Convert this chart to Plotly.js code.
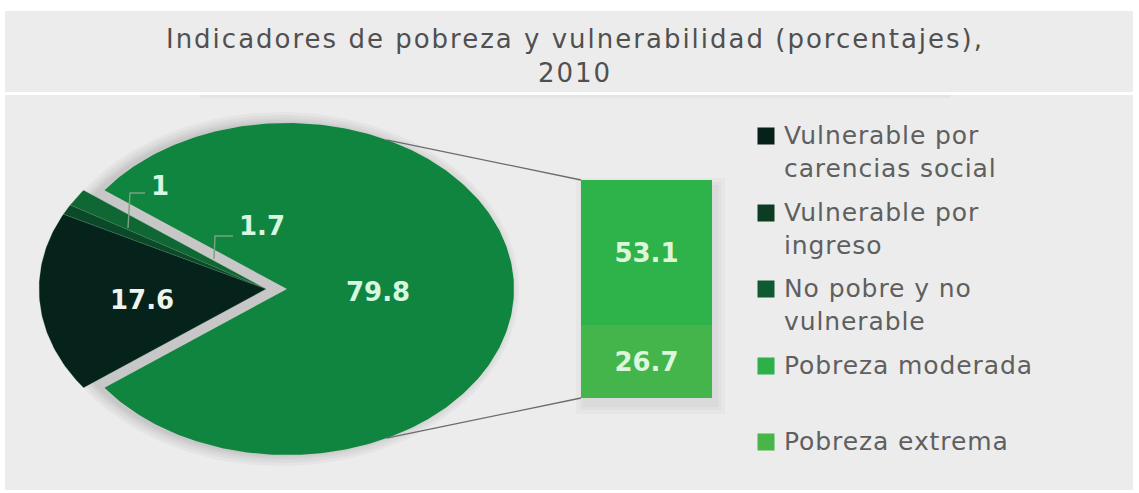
<!DOCTYPE html>
<html>
<head>
<meta charset="utf-8">
<script src="https://cdn.plot.ly/plotly-3.0.1.min.js"></script>
<style>html,body{margin:0;padding:0;background:#fff;}#chart{width:1139px;height:493px;}</style>
</head>
<body>
<div id="chart"></div>
<script>
// ---------------- data ----------------
const pieLabels = ['Vulnerable por carencias social', 'Vulnerable por ingreso', 'No pobre y no vulnerable', 'Pobreza'];
const pieValues = [17.6, 1, 1.7, 79.8];
const barLabels = ['Pobreza extrema', 'Pobreza moderada'];
const barValues = [26.7, 53.1];
const legendLabels = ['Vulnerable por<br>carencias social', 'Vulnerable por<br>ingreso', 'No pobre y no<br>vulnerable', 'Pobreza moderada', 'Pobreza extrema'];
const titleText = 'Indicadores de pobreza y vulnerabilidad (porcentajes),<br>2010';

// ---------------- styles ----------------
const W = 1139, H = 493;
const pieColors = ['#05231a', '#0b4a28', '#0f6834', '#10853f'];
const barColors = ['#43b54b', '#2db34a'];
const legendColors = ['#06201a', '#0c3d22', '#0e5a31', '#2bb04a', '#47b548'];
const cx = 287, cy = 289, rx = 227, ry = 166, pull = 0.0925;
const barX0 = 581, barX1 = 712, barTop = 180, barBottom = 398;

const total = pieValues.reduce((a, b) => a + b, 0);
const k = 360 / total;
const groupIdx = [2, 1, 0];           // drawn from top edge downward (counter-clockwise)
const groupTotal = groupIdx.reduce((s, i) => s + pieValues[i], 0);
const startAng = 180 - groupTotal * k / 2;
const rad = d => d * Math.PI / 180;
const offX = -pull * rx;             // group pulled towards the left (mid angle 180°)

function wedge(a0, a1, ox) {
  const xs = [cx + ox], ys = [cy];
  const n = Math.max(4, Math.ceil(Math.abs(a1 - a0)));
  for (let j = 0; j <= n; j++) {
    const a = a0 + (a1 - a0) * j / n;
    xs.push(cx + ox + rx * Math.cos(rad(a)));
    ys.push(cy - ry * Math.sin(rad(a)));
  }
  xs.push(cx + ox); ys.push(cy);
  return {xs, ys};
}
function ellipse(ox, grow) {
  const xs = [], ys = [];
  for (let a = 0; a <= 360; a += 2) {
    xs.push(cx + ox + (rx + grow) * Math.cos(rad(a)));
    ys.push(cy - (ry + grow) * Math.sin(rad(a)));
  }
  return {xs, ys};
}

const traces = [];
// soft shadow under the pie
[11, 8, 5, 3, 1].forEach(g => {
  const e = ellipse(-6, g);
  traces.push({type: 'scatter', x: e.xs, y: e.ys, mode: 'lines', fill: 'toself',
    fillcolor: 'rgba(0,0,0,0.03)', line: {width: 0}, hoverinfo: 'skip', showlegend: false});
});

// pulled group
let a = startAng;
const angles = {};
groupIdx.forEach(i => {
  const a0 = a, a1 = a + pieValues[i] * k;
  angles[i] = [a0, a1];
  const w = wedge(a0, a1, offX);
  traces.push({type: 'scatter', x: w.xs, y: w.ys, mode: 'lines', fill: 'toself',
    fillcolor: pieColors[i], line: {width: 0.6, color: 'rgba(120,170,130,0.35)'},
    name: pieLabels[i], hoverinfo: 'skip', showlegend: false});
  a = a1;
});
// main slice
angles[3] = [a, startAng + 360];
const wm = wedge(a, startAng + 360, 0);
traces.push({type: 'scatter', x: wm.xs, y: wm.ys, mode: 'lines', fill: 'toself',
  fillcolor: pieColors[3], line: {width: 0}, name: pieLabels[3], hoverinfo: 'skip', showlegend: false});

// connector lines from the main slice to the bar
const connAng = 64;
[connAng, -connAng].forEach((ang, j) => {
  traces.push({type: 'scatter', mode: 'lines',
    x: [cx + rx * Math.cos(rad(ang)), barX0],
    y: [cy - ry * Math.sin(rad(ang)), j === 0 ? barTop : barBottom],
    line: {color: '#6b6b6b', width: 1.3}, hoverinfo: 'skip', showlegend: false});
});

// leader lines for the small slices
traces.push({type: 'scatter', mode: 'lines', x: [145, 130, 128], y: [193, 193, 228],
  line: {color: '#7f9f86', width: 1.4}, hoverinfo: 'skip', showlegend: false});
traces.push({type: 'scatter', mode: 'lines', x: [233, 215, 214], y: [236, 236, 259],
  line: {color: '#7f9f86', width: 1.4}, hoverinfo: 'skip', showlegend: false});

// stacked bar
barValues.forEach((v, i) => {
  traces.push({type: 'bar', x: [0], y: [v], width: 1, xaxis: 'x2', yaxis: 'y2',
    marker: {color: barColors[i], line: {width: 0}}, name: barLabels[i],
    text: [String(v)], textposition: 'inside', insidetextanchor: 'middle', textangle: 0,
    constraintext: 'none',
    textfont: {family: 'DejaVu Sans', size: 26, weight: 'bold', color: '#dcf6dc'},
    hoverinfo: 'skip', showlegend: false});
});

// legend squares
const legY = [136, 213, 289, 366, 442];
traces.push({type: 'scatter', mode: 'markers', x: legY.map(() => 766), y: legY,
  marker: {symbol: 'square', size: 17, color: legendColors, line: {width: 0}},
  hoverinfo: 'skip', showlegend: false});

// ---------------- annotations ----------------
const annotations = [];
legendLabels.forEach((t, i) => {
  annotations.push({xref: 'x', yref: 'y', x: 782, y: legY[i] - 17, xanchor: 'left', yanchor: 'top',
    text: '<span style="letter-spacing:0.9px">' + t + '</span>', showarrow: false, align: 'left',
    font: {family: 'DejaVu Sans', size: 25, color: '#5f5f5f'}});
});
function midLabel(i, r, color) {
  const [a0, a1] = angles[i];
  const m = (a0 + a1) / 2;
  const ox = i === 3 ? 0 : offX;
  annotations.push({xref: 'x', yref: 'y', x: cx + ox + r * rx * Math.cos(rad(m)),
    y: cy - r * ry * Math.sin(rad(m)) + 3, text: String(pieValues[i]), showarrow: false,
    font: {family: 'DejaVu Sans', size: 26, weight: 'bold', color: color}});
}
midLabel(3, 0.4, '#d6f7e0');
midLabel(0, 0.55, '#eef4ee');
annotations.push({xref: 'x', yref: 'y', x: 160, y: 186, text: String(pieValues[1]), showarrow: false,
  font: {family: 'DejaVu Sans', size: 26, weight: 'bold', color: '#d6f7e0'}});
annotations.push({xref: 'x', yref: 'y', x: 262, y: 226, text: String(pieValues[2]), showarrow: false,
  font: {family: 'DejaVu Sans', size: 26, weight: 'bold', color: '#d6f7e0'}});

// ---------------- background panels ----------------
const shapes = [
  {type: 'rect', xref: 'x', yref: 'y', x0: 5, x1: 1133, y0: 11, y1: 92, fillcolor: '#ececec', line: {width: 0}, layer: 'below'},
  {type: 'rect', xref: 'x', yref: 'y', x0: 5, x1: 1133, y0: 95, y1: 490, fillcolor: '#ececec', line: {width: 0}, layer: 'below'},
  {type: 'rect', xref: 'x', yref: 'y', x0: 200, x1: 950, y0: 95, y1: 98, fillcolor: 'rgba(0,0,0,0.03)', line: {width: 0}, layer: 'below'},
];
[10, 6, 3].forEach(g => {
  shapes.push({type: 'rect', xref: 'x', yref: 'y', x0: barX0 - g + 5, x1: barX1 + g + 3, y0: barTop - g + 8, y1: barBottom + g + 6,
    fillcolor: 'rgba(0,0,0,0.025)', line: {width: 0}, layer: 'below'});
});

const layout = {
  width: W, height: H,
  margin: {l: 0, r: 0, t: 0, b: 0},
  paper_bgcolor: '#ffffff', plot_bgcolor: 'rgba(0,0,0,0)',
  showlegend: false, hovermode: false, barmode: 'stack', bargap: 0,
  title: {text: '<span style="letter-spacing:2px">' + titleText + '</span>',
    x: 575 / W, xanchor: 'center', xref: 'paper', y: 1 - 48 / H, yanchor: 'middle', yref: 'container',
    font: {family: 'DejaVu Sans', size: 26, color: '#505050'}},
  xaxis: {domain: [0, 1], range: [0, W], visible: false, fixedrange: true},
  yaxis: {domain: [0, 1], range: [H, 0], visible: false, fixedrange: true},
  xaxis2: {domain: [barX0 / W, barX1 / W], range: [-0.5, 0.5], anchor: 'y2', visible: false, fixedrange: true},
  yaxis2: {domain: [(H - barBottom) / H, (H - barTop) / H], range: [0, barValues.reduce((s, v) => s + v, 0)],
    anchor: 'x2', visible: false, fixedrange: true},
  shapes: shapes,
  annotations: annotations
};

Plotly.newPlot('chart', traces, layout, {staticPlot: true, displayModeBar: false});
</script>
</body>
</html>
